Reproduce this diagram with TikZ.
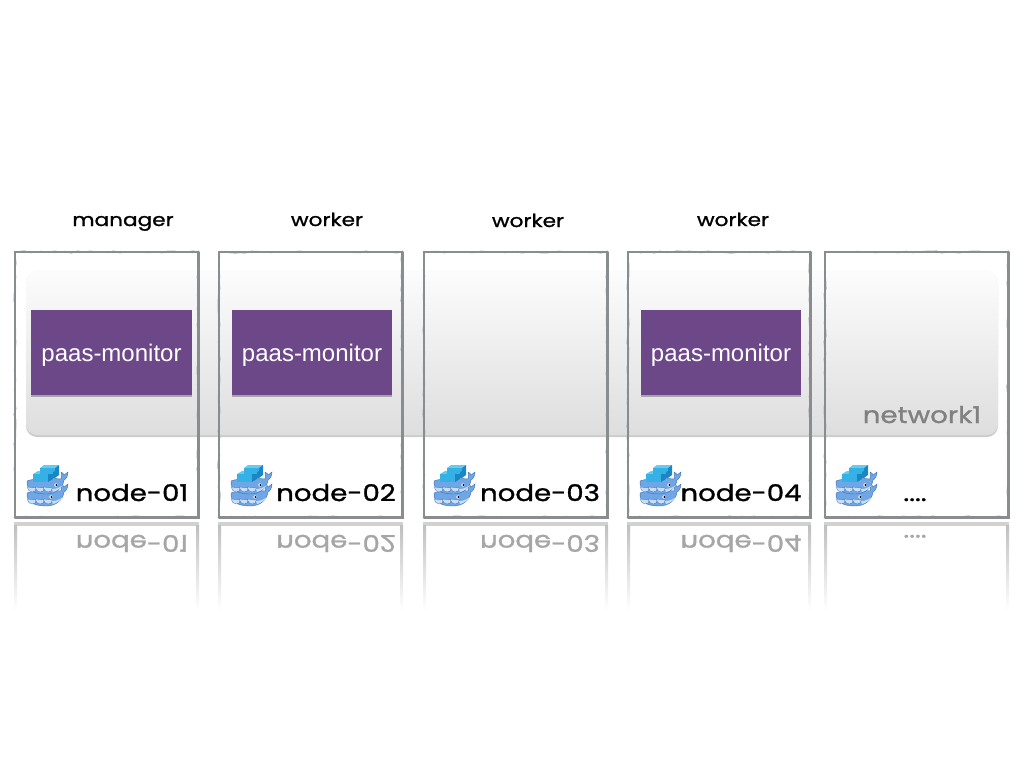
\documentclass[tikz,border=0pt]{standalone}
\usepackage{fontspec}
\usetikzlibrary{decorations.pathmorphing,positioning}
\setsansfont{Liberation Sans}
\newfontfamily\handfont[FakeStretch=1.2,FakeBold=1.2]{Poppins}
\definecolor{framegray}{HTML}{8A8D90}
\definecolor{monitorpurple}{HTML}{6D4889}
\definecolor{whaleblue}{HTML}{6FA6E6}
\definecolor{whalelight}{HTML}{C9DDF5}
\definecolor{whaleline}{HTML}{3F6FAE}
\definecolor{crateface}{HTML}{35B1E6}
\definecolor{cratetop}{HTML}{62CDF2}
\definecolor{crateside}{HTML}{1B86C4}
\tikzset{
  hand/.style={font=\handfont\fontsize{23}{23}\selectfont, text=black, inner sep=0pt, anchor=base},
  roletext/.style={font=\handfont\fontsize{18}{18}\selectfont, text=black, inner sep=0pt, anchor=base},
  monitor/.style={fill=monitorpurple, text=white, minimum width=160pt, minimum height=85pt,
    inner sep=0pt, text height=23pt, text depth=6pt, font=\sffamily\fontsize{24}{24}\selectfont},
  rough/.style={draw=framegray!70, line width=1pt, decorate,
    decoration={random steps, segment length=6pt, amplitude=1.1pt}},
  pics/whalebody/.style={code={
    \filldraw[fill=whaleblue,draw=whaleline,line width=.4pt](1,17)..controls(8,14)and(26,14)..(35,15)
      ..controls(36,13)and(35,11)..(35,8)..controls(37,9)and(38,10)..(38,11)
      ..controls(39,10)and(41,9)..(42,8)..controls(42,12)and(40,15)..(38,16)
      ..controls(37,24)and(30,30)..(20,30)..controls(10,30)and(0,27)..(1,17)--cycle;
    \foreach \xc in {6,14,22}{
      \filldraw[fill=whalelight,draw=whaleline,line width=.3pt](\xc-4.5,23)
        ..controls(\xc-4,29.5)and(\xc+4,29.5)..(\xc+4.5,24)--cycle;
    }
    \fill[whalelight](27,28)..controls(31,27)and(35,24)..(37,21)..controls(33,24)and(30,25)..(26,25)--cycle;
  }},
  pics/whale/.style={code={
    \pic at (0,12){whalebody};
    \pic at (0,0){whalebody};
    \fill[white](30,21)circle(1.8);\fill[black](30.4,21)circle(1.1);
    \fill[white](25,33)circle(1.8);\fill[black](25.4,33)circle(1.1);
    % lower crate
    \fill[cratetop](7,10)--(12,7)--(27,7)--(23,10)--cycle;
    \fill[crateface](7,10)rectangle(22,18);
    \fill[crateside](22,10)--(27,7)--(27,15)--(22,18)--cycle;
    % upper crate
    \fill[cratetop](14,4)--(18,1)--(33,1)--(29,4)--cycle;
    \fill[crateface](14,4)rectangle(29,10);
    \fill[crateside](29,4)--(33,1)--(33,11)--(29,14)--(27,14)--(27,8)--(29,7)--cycle;
  }}
}
\begin{document}
\begin{tikzpicture}[x=1pt,y=-1pt]
  \useasboundingbox(0,0)rectangle(1024,768);
  % network band
  \fill[black!20,rounded corners=11pt](26,273)rectangle(998,437);
  \shade[top color=black!1,bottom color=black!13,rounded corners=11pt](26,270)rectangle(998,435);
  % frames and their reflections
  \foreach \xa/\xb in {15/198,219/402,424/607,628/810,825/1008}{
    \draw[rough](\xa,252)rectangle(\xb,517);
    \draw[framegray,line width=1.6pt](\xa,252)rectangle(\xb,517);
    \draw[framegray,line width=3pt,line cap=round](\xb,252)--(\xb,517)--(\xa,517);
    \fill[black!18](\xa-1,522)rectangle(\xb+1,526);
    \shade[top color=black!25,bottom color=white](\xa-1,525)rectangle(\xa+2,610);
    \shade[top color=black!25,bottom color=white](\xb-2,525)rectangle(\xb+1,610);
  }
  % boxes
  \fill[black!35](31,312)rectangle(192,397);
  \fill[black!35](232,312)rectangle(392,397);
  \fill[black!35](641,312)rectangle(801,397);
  \node[monitor,minimum width=161pt](mon1) at (111.5,352.5){paas-monitor};
  \node[monitor](mon2) at (312,352.5){paas-monitor};
  \node[monitor](mon4) at (721,352.5){paas-monitor};
  % roles
  \node[roletext](role1) at (123,226){manager};
  \node[roletext](role2) at (327,226){worker};
  \node[roletext](role3) at (528,227){worker};
  \node[roletext](role4) at (733,226){worker};
  \node[hand,text=black!50](net) at (922,423){network1};
  % hosts
  \pic at (26,464){whale};
  \pic at (230,464){whale};
  \pic at (433,464){whale};
  \pic at (639,464){whale};
  \pic at (835,464){whale};
  \node[hand](host1) at (132,501){node-01};
  \node[hand](host2) at (336,501){node-02};
  \node[hand](host3) at (540,501){node-03};
  \node[hand](host4) at (741,501){node-04};
  \node[hand](host5) at (915,501){....};
  % mirrored host names
  \node[hand,text=black!35,yscale=-1](mir1) at (132,535){node-01};
  \node[hand,text=black!35,yscale=-1](mir2) at (336,535){node-02};
  \node[hand,text=black!35,yscale=-1](mir3) at (540,535){node-03};
  \node[hand,text=black!35,yscale=-1](mir4) at (741,535){node-04};
  \node[hand,text=black!35,yscale=-1](mir5) at (915,535){....};
\end{tikzpicture}
\end{document}
